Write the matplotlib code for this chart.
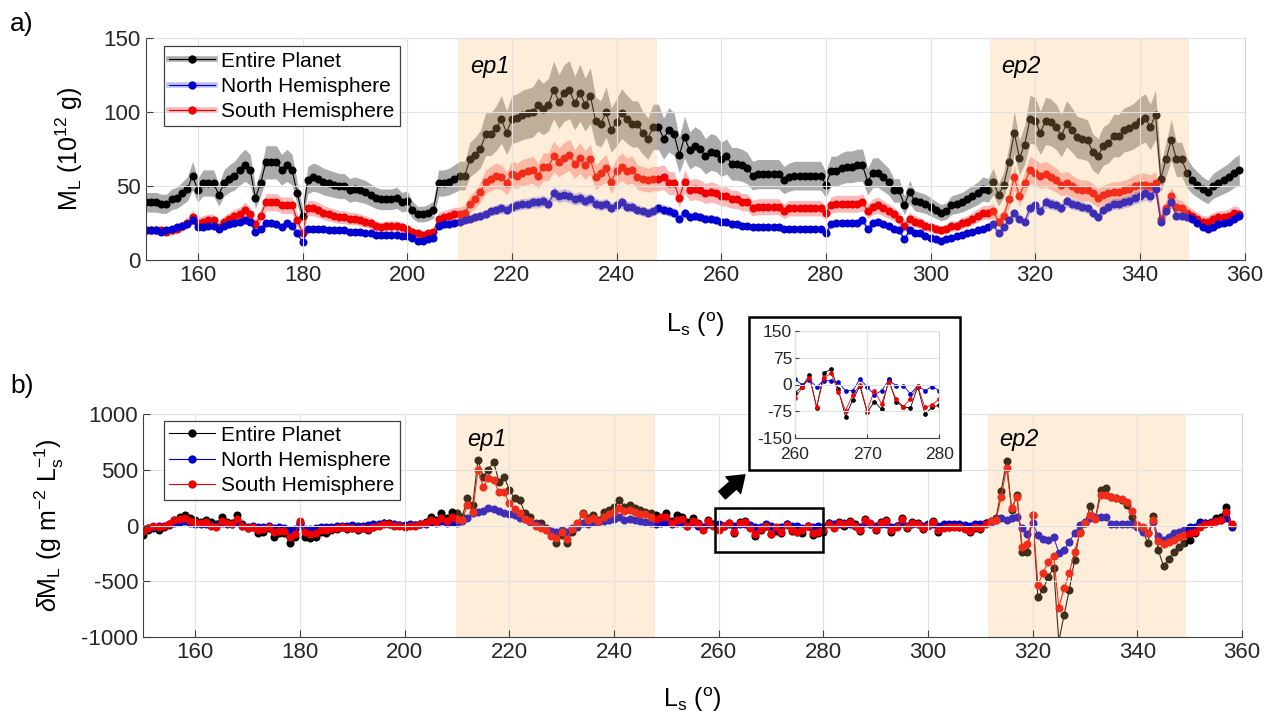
#!/usr/bin/env python3

import numpy as np
import matplotlib
matplotlib.use('Agg')
import matplotlib.pyplot as plt
from matplotlib.lines import Line2D
from matplotlib.patches import Rectangle, FancyArrowPatch

plt.rcParams['font.family'] = ['Liberation Sans', 'DejaVu Sans']
plt.rcParams['mathtext.fontset'] = 'custom'
plt.rcParams['mathtext.rm'] = 'Liberation Sans'
plt.rcParams['mathtext.it'] = 'Liberation Sans:italic'
plt.rcParams['mathtext.default'] = 'regular'
plt.rcParams['axes.unicode_minus'] = False

# solar longitude of each daily value (top: 150..359, bottom: 150..358)
LS_MASS = np.arange(150, 360)
LS_RATE = np.arange(150, 359)

# panel a) mass, 10^12 g
ENTIRE_MASS = [
  39, 39, 39, 38, 38, 41, 42, 45, 48, 57,
  47, 52, 52, 52, 44, 52, 55, 57, 61, 64,
  61, 42, 52, 66, 66, 66, 61, 64, 61, 45,
  30, 54, 56, 55, 53, 52, 51, 50, 50, 47,
  48, 47, 46, 44, 42, 41, 41, 41, 42, 39,
  40, 34, 31, 31, 32, 34, 52, 52, 53, 55,
  57, 57, 68, 71, 75, 85, 85, 89, 95, 86,
  95, 96, 98, 99, 100, 105, 102, 105, 115, 107,
  113, 115, 106, 113, 105, 111, 94, 92, 100, 88,
  93, 99, 95, 92, 92, 86, 82, 90, 90, 82,
  88, 85, 71, 83, 74, 77, 75, 70, 73, 72,
  68, 70, 65, 65, 64, 62, 57, 58, 58, 58,
  58, 58, 54, 56, 57, 57, 57, 57, 57, 57,
  51, 60, 60, 62, 63, 63, 64, 64, 53, 59,
  59, 56, 53, 47, 47, 37, 46, 40, 39, 38,
  36, 34, 32, 33, 37, 38, 39, 41, 43, 45,
  48, 47, 53, 44, 51, 66, 86, 69, 78, 95,
  94, 86, 94, 93, 90, 84, 92, 88, 83, 82,
  81, 73, 70, 77, 79, 84, 84, 88, 89, 91,
  94, 96, 90, 98, 55, 68, 81, 68, 68, 59,
  54, 51, 48, 46, 50, 52, 54, 56, 59, 61]

NORTH_MASS = [
  20, 20, 20, 19, 20, 21, 22, 23, 24, 27,
  22, 22, 23, 23, 21, 23, 24, 25, 26, 27,
  26, 19, 21, 25, 25, 24, 22, 25, 23, 18,
  12, 21, 21, 21, 21, 20, 20, 20, 20, 19,
  19, 19, 18, 18, 17, 17, 17, 17, 17, 16,
  16, 15, 13, 13, 14, 15, 23, 24, 24, 25,
  26, 27, 28, 29, 30, 31, 33, 34, 35, 34,
  36, 37, 38, 38, 39, 39, 40, 38, 45, 43,
  44, 43, 41, 42, 40, 41, 38, 37, 38, 35,
  37, 39, 36, 36, 34, 33, 32, 33, 35, 34,
  33, 32, 28, 32, 29, 30, 29, 28, 28, 27,
  26, 26, 24, 24, 23, 23, 22, 22, 22, 22,
  22, 22, 21, 21, 21, 21, 21, 21, 21, 21,
  18, 24, 25, 25, 25, 25, 25, 27, 21, 25,
  26, 24, 23, 21, 20, 14, 20, 18, 18, 16,
  15, 14, 13, 14, 15, 16, 17, 18, 19, 20,
  21, 22, 24, 18, 22, 27, 32, 28, 26, 35,
  37, 33, 39, 38, 37, 35, 40, 38, 37, 36,
  35, 32, 29, 34, 36, 38, 38, 39, 40, 42,
  43, 45, 43, 48, 26, 33, 39, 30, 30, 29,
  28, 25, 22, 21, 22, 24, 25, 26, 28, 30]

SOUTH_MASS = [
  20, 20, 20, 20, 19, 20, 21, 23, 25, 29,
  25, 26, 27, 27, 22, 26, 28, 30, 31, 34,
  31, 24, 30, 39, 39, 39, 37, 37, 37, 27,
  18, 35, 35, 34, 32, 31, 30, 29, 29, 28,
  28, 27, 26, 25, 23, 22, 23, 23, 23, 22,
  21, 19, 18, 17, 18, 19, 28, 29, 30, 31,
  31, 32, 38, 41, 46, 53, 55, 57, 56, 52,
  58, 57, 59, 60, 61, 57, 63, 63, 70, 66,
  69, 71, 65, 69, 64, 68, 56, 59, 62, 53,
  60, 63, 60, 61, 56, 55, 54, 55, 55, 56,
  52, 52, 42, 53, 47, 48, 47, 45, 46, 45,
  43, 43, 41, 41, 39, 39, 35, 36, 36, 36,
  36, 36, 33, 35, 35, 35, 35, 35, 35, 35,
  32, 37, 38, 38, 38, 38, 38, 39, 33, 36,
  37, 35, 33, 31, 28, 23, 28, 26, 25, 23,
  22, 21, 20, 21, 23, 23, 25, 26, 28, 30,
  32, 32, 33, 26, 30, 41, 56, 43, 52, 61,
  59, 57, 58, 56, 54, 51, 52, 50, 48, 47,
  47, 45, 42, 44, 45, 46, 46, 47, 48, 50,
  51, 51, 50, 52, 28, 35, 43, 36, 35, 32,
  30, 28, 26, 26, 28, 29, 29, 30, 32, 31]

# relative 1-sigma uncertainty of each mass series
ENTIRE_UNC = 0.17
NORTH_UNC = 0.10
SOUTH_UNC = 0.15

# panel b) rate of change, g m^-2 Ls^-1
ENTIRE_RATE = [
  -85, -40, -25, -40, -10, 5, 50, 80, 95, 65,
  50, 35, 45, 35, 15, 80, 35, 20, 95, 15,
  -25, -10, -70, -55, -25, -100, -70, -65, -160, -100,
  20, -100, -115, -100, -55, -65, -40, -35, -10, -35,
  -25, -40, -25, -40, -10, 5, 20, 25, 5, 5,
  -5, 5, 5, 15, 35, 80, 50, 110, 65, 125,
  110, 80, 245, 185, 590, 440, 500, 575, 395, 440,
  320, 245, 230, 110, 80, 20, 20, -25, -70, -160,
  -85, -160, -55, -10, 110, 65, 95, 50, 125, 140,
  170, 230, 170, 185, 155, 135, 125, 110, 95, 65,
  110, 40, 90, 80, 30, 70, 20, -20, 50, 10,
  -23, -6, 26, -65, 33, 42, -13, -90, -43, -4,
  -78, -48, -69, 14, -48, -62, -66, -6, -82, -64,
  -57, 20, -10, 30, 0, 40, 10, -50, 60, 10,
  -40, 30, 50, -60, 0, 70, -20, 30, 20, -30,
  10, 40, -60, -10, -10, 0, -10, -10, -60, -20,
  -30, 20, 40, 70, 313, 580, 139, 274, -235, -235,
  90, -646, -575, -460, -380, -1040, -805, -580, -310, -55,
  20, 175, 65, 320, 335, 260, 245, 230, 185, 80,
  5, -40, -160, 85, -220, -364, -304, -235, -190, -160,
  -130, -70, 35, 20, 20, 65, 80, 170, 5]

NORTH_RATE = [
  -30, -20, -10, -5, 0, 10, 20, 30, 40, 20,
  10, 10, 15, 5, 0, 20, 10, 10, 30, 0,
  -10, 0, -10, -10, 0, -20, -10, -20, -40, -30,
  20, -30, -30, -20, -10, -10, -10, -5, 0, 0,
  5, 0, 0, 5, 10, 10, 20, 15, 10, 5,
  5, 10, 5, 10, 15, 30, 20, 40, 20, 30,
  20, 40, 70, 110, 120, 130, 160, 150, 130, 110,
  100, 90, 70, 60, 30, 10, -10, -30, -50, -60,
  -40, -60, -20, 0, 20, 10, 30, 30, 40, 50,
  60, 80, 50, 60, 50, 40, 30, 20, 10, 20,
  30, 10, 20, 20, 0, 20, 0, -10, 10, 5,
  15, -1, 12, -6, 11, 10, 6, -17, -17, 15,
  -6, -29, -17, 12, -3, -3, -26, -4, -17, -6,
  -17, 20, 10, 10, 20, 10, 0, -10, 20, 10,
  0, 10, 10, -10, 0, 20, 0, 10, 10, 0,
  5, 10, 0, 10, 10, 10, 10, 5, 0, 10,
  10, 20, 30, 50, 70, 50, 70, 80, -25, -75,
  20, -85, -125, -130, -105, -245, -220, -145, -70, 5,
  35, 65, 75, 75, 80, 15, 15, 15, 15, 15,
  -10, -55, -70, 35, -95, -130, -100, -70, -55, -40,
  -10, -10, 20, 25, 30, 40, 50, 65, -10]

SOUTH_RATE = [
  -50, -20, 0, -10, 0, 10, 50, 60, 70, 40,
  30, 20, 30, 0, -10, 40, 20, 10, 60, 0,
  -20, -10, -40, -30, -10, -60, -50, -50, -100, -80,
  40, -60, -80, -70, -40, -40, -30, -20, -10, -20,
  -20, -30, -20, -30, -10, 0, 10, 10, 0, 0,
  -10, 0, 0, 10, 20, 50, 30, 70, 40, 80,
  60, 50, 185, 125, 500, 350, 425, 410, 300, 300,
  200, 150, 110, 60, 40, 0, -20, -40, -90, -110,
  -60, -120, -30, 20, 100, 50, 70, 40, 80, 100,
  120, 160, 130, 140, 120, 100, 100, 80, 60, 80,
  80, 20, 50, 60, 0, 40, 10, -40, 40, 0,
  -39, -8, 19, -62, 19, 31, -20, -73, -29, -1,
  -73, -17, -54, 6, -40, -62, -40, -4, -64, -57,
  -40, 10, -20, 20, 10, 30, 0, -40, 50, 20,
  -30, 20, 40, -40, -10, 60, -10, 20, 10, -20,
  0, 30, -40, -20, -10, -10, -10, -30, -50, -10,
  -20, 10, 40, 50, 260, 514, 154, 260, -190, -166,
  93, -535, -424, -325, -271, -739, -565, -430, -235, -70,
  20, 93, 55, 274, 274, 260, 245, 235, 215, 134,
  5, -10, -70, 50, -140, -170, -150, -130, -100, -85,
  -70, -55, -10, 10, 20, 40, 50, 120, 10]

LABELS = ['Entire Planet', 'North Hemisphere', 'South Hemisphere']
EPISODES = [('ep1', 209.8, 247.8), ('ep2', 311.4, 349.3)]

BLACK = '#000000'
BLUE = '#0000d0'
RED = '#f00000'
SHADE = (0.98, 0.72, 0.42)

W, H = 1271, 714


def style_axes(ax):
  ax.tick_params(direction='in', length=5, width=0.8, labelsize=16,
                 color='#404040', labelcolor='#262626')
  for side in ['top', 'right']:
    ax.spines[side].set_color('#d6d6d6')
  for side in ['left', 'bottom']:
    ax.spines[side].set_color('#404040')
  ax.set_axisbelow(False)
  ax.grid(True, color='#e2e2e2', linewidth=0.8)


def shade_episodes(ax, ytext):
  for name, start, end in EPISODES:
    ax.axvspan(start, end, facecolor=SHADE, alpha=0.25, lw=0, zorder=2.2)
    ax.text(start + 2.2, ytext, name, style='italic', fontsize=17,
            va='center', zorder=5)


def add_legend(ax, handles, anchor):
  leg = ax.legend(handles, LABELS, loc='upper left', bbox_to_anchor=anchor,
                  borderaxespad=0, fontsize=15, handlelength=2.2, handletextpad=0.3,
                  labelspacing=0.3, borderpad=0.25, fancybox=False,
                  edgecolor='#404040', framealpha=1)
  leg.get_frame().set_linewidth(0.9)
  leg.set_zorder(6)


fig = plt.figure(figsize=(W / 100, H / 100), dpi=100)

# ---- panel a) ----
ax1 = fig.add_axes([145.5 / W, 1 - 260 / H, 1099 / W, 222 / H])
mass = [(ENTIRE_MASS, ENTIRE_UNC, BLACK, 0.33),
        (SOUTH_MASS, SOUTH_UNC, RED, 0.28),
        (NORTH_MASS, NORTH_UNC, BLUE, 0.25)]
for values, unc, color, band_alpha in mass:
  values = np.array(values, dtype=float)
  ax1.fill_between(LS_MASS, values * (1 - unc), values * (1 + unc),
                   color=color, alpha=band_alpha, lw=0, zorder=1)
  ax1.plot(LS_MASS, values, '-o', color=color, lw=0.8, ms=5.8, mew=0, zorder=2)

shade_episodes(ax1, 131)
ax1.set_xlim(150, 360)
ax1.set_ylim(0, 150)
ax1.set_xticks(range(160, 361, 20))
ax1.set_yticks([0, 50, 100, 150])
style_axes(ax1)

handles = []
for color, band_alpha in [(BLACK, 0.33), (BLUE, 0.25), (RED, 0.28)]:
  handles.append((Line2D([], [], color=color, alpha=band_alpha, lw=4),
                  Line2D([], [], color=color, lw=0.8, marker='o', ms=6, mew=0)))
add_legend(ax1, handles, (0.017, 0.962))

ax1.set_xlabel('L$_s$ ($^o$)', fontsize=18, va='top')
ax1.xaxis.set_label_coords(0.5, -0.225)
ax1.set_ylabel('M$_L$ (10$^{12}$ g)', fontsize=18, va='center')
ax1.yaxis.set_label_coords(-0.069, 0.5)

# ---- panel b) ----
ax2 = fig.add_axes([143 / W, 1 - 636.7 / H, 1099 / W, 222.4 / H])
rates = [(ENTIRE_RATE, BLACK), (NORTH_RATE, BLUE), (SOUTH_RATE, RED)]
for values, color in rates:
  ax2.plot(LS_RATE, values, '-o', color=color, lw=0.8, ms=5.8, mew=0, zorder=2)

shade_episodes(ax2, 770)
ax2.set_xlim(150, 360)
ax2.set_ylim(-1000, 1000)
ax2.set_xticks(range(160, 361, 20))
ax2.set_yticks([-1000, -500, 0, 500, 1000])
style_axes(ax2)

handles = [Line2D([], [], color=c, lw=0.8, marker='o', ms=6, mew=0)
           for c in [BLACK, BLUE, RED]]
add_legend(ax2, handles, (0.019, 0.972))

# zoom window in panel b)
ax2.add_patch(Rectangle((259.3, -235), 20.7, 390, fill=False, lw=1.8,
                        edgecolor='k', zorder=4))

ax2.set_xlabel('L$_s$ ($^o$)', fontsize=18, va='top')
ax2.xaxis.set_label_coords(0.5, -0.22)
ax2.set_ylabel('$\\mathit{\\delta}$M$_L$ (g m$^{-2}$ L$_s^{-1}$)', fontsize=18,
               va='center')
ax2.yaxis.set_label_coords(-0.085, 0.5)

# ---- inset ----
fig.add_artist(Rectangle((749.3 / W, 1 - 470 / H), 210.7 / W, 152.7 / H,
                         transform=fig.transFigure, facecolor='white',
                         edgecolor='k', lw=1.8, zorder=3))
ax3 = fig.add_axes([795 / W, 1 - 438.3 / H, 144.3 / W, 107.6 / H])
ax3.set_zorder(4)
for values, color in rates:
  ax3.plot(LS_RATE, values, '-o', color=color, lw=0.6, ms=3.4, mew=0)
ax3.set_xlim(260, 280)
ax3.set_ylim(-150, 150)
ax3.set_xticks([260, 270, 280])
ax3.set_yticks([-150, -75, 0, 75, 150])
style_axes(ax3)
ax3.tick_params(labelsize=12.5, length=3)
ax3.tick_params(axis='x', pad=6)
ax3.tick_params(axis='y', pad=2)

fig.add_artist(FancyArrowPatch((720 / W, 1 - 497 / H), (747 / W, 1 - 473 / H),
                               transform=fig.transFigure, color='k',
                               arrowstyle='simple,head_length=0.7,head_width=1.0,tail_width=0.45',
                               mutation_scale=16, zorder=3))

fig.text(10 / W, 1 - 31 / H, 'a)', fontsize=19, va='baseline')
fig.text(10 / W, 1 - 393 / H, 'b)', fontsize=19, va='baseline')

fig.savefig('out.png', dpi=100)
